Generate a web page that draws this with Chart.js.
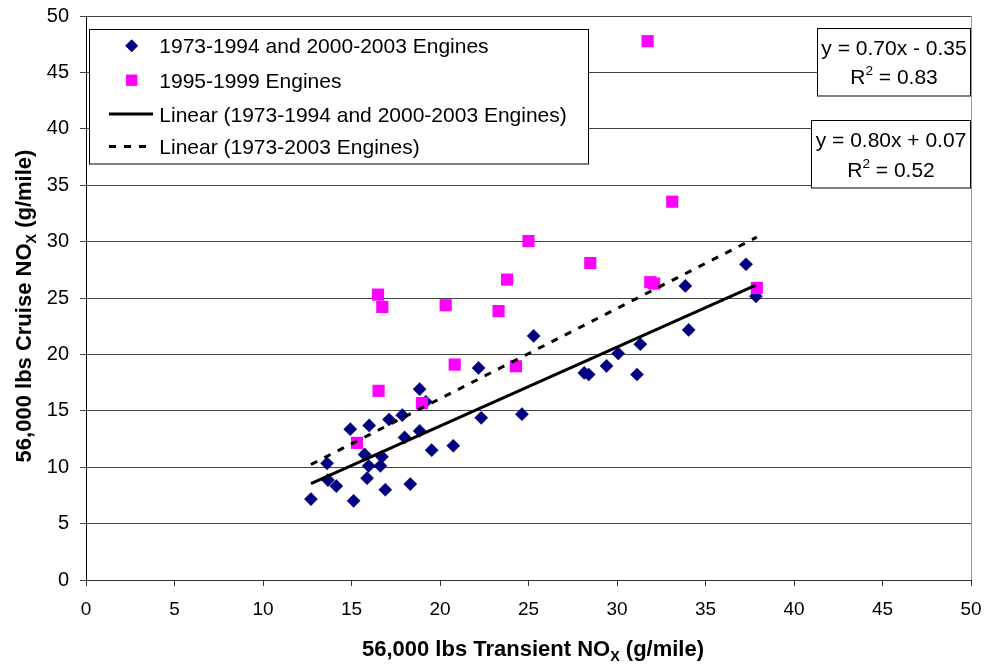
<!DOCTYPE html>
<html>
<head>
<meta charset="utf-8">
<script src="https://cdn.jsdelivr.net/npm/chart.js@4.4.1/dist/chart.umd.min.js"></script>
<style>
  html,body{margin:0;padding:0;background:#fff;}
</style>
</head>
<body>
<canvas id="noxChart" width="987" height="664"></canvas>
<script>
// ==================== Data ====================
const blueX=[12.71,13.62,13.67,14.14,14.93,15.12,15.74,16.00,15.97,15.88,16.63,16.72,16.91,17.12,17.87,18.00,18.32,18.85,18.85,19.20,19.53,20.75,22.18,22.33,24.63,25.29,28.15,28.40,29.41,30.07,31.13,31.32,33.86,34.05,37.29,37.85];
const blueY=[7.17,10.34,8.86,8.33,13.37,7.02,11.13,13.70,10.12,9.03,10.12,10.92,8.00,14.23,14.61,12.64,8.50,13.22,16.92,15.80,11.51,11.90,18.80,14.38,14.70,21.64,18.36,18.22,18.98,20.08,18.22,20.90,26.07,22.17,27.99,25.15];
const pinkX=[15.31,16.50,16.53,16.74,18.98,20.32,20.83,23.31,23.79,24.29,25.00,28.49,31.73,31.88,32.10,33.12,37.90];
const pinkY=[12.16,25.30,16.77,24.21,15.68,24.36,19.10,23.84,26.63,18.95,30.05,28.10,47.77,26.40,26.28,33.54,25.89];

const seriesNames=["1973-1994 and 2000-2003 Engines","1995-1999 Engines"];
const fitNames=["Linear (1973-1994 and 2000-2003 Engines)","Linear (1973-2003 Engines)"];
const fitSlope=[0.70,0.80];
const fitIntercept=[-0.35,0.07];
const fitEq=["y = 0.70x - 0.35","y = 0.80x + 0.07"];
const fitR2=["0.83","0.52"];

const xTicks=[0,5,10,15,20,25,30,35,40,45,50];
const yTicks=[0,5,10,15,20,25,30,35,40,45,50];

// ==================== Helpers ====================
const FONT="'Liberation Sans', Arial, sans-serif";
const toPts=(xs,ys)=>xs.map((x,i)=>({x:x,y:ys[i]}));
// trendline ends over the x range of the fitted points
function fitLine(i,xs){
  const lo=Math.min(...xs), hi=Math.max(...xs);
  return [lo,hi].map(x=>({x:x,y:fitSlope[i]*x+fitIntercept[i]}));
}
const allX=blueX.concat(pinkX);

function fnt(size,bold){ return (bold?"bold ":"")+size+"px "+FONT; }
// parts: [text, mode] mode 0 normal, 1 subscript, 2 superscript
function richText(ctx,parts,x,y,size,bold,center){
  const sm=size*0.65;
  const w=parts.map(([t,m])=>{ctx.font=fnt(m?sm:size,bold);return ctx.measureText(t).width;});
  let cx=center? x-w.reduce((a,b)=>a+b,0)/2 : x;
  ctx.textAlign="left"; ctx.textBaseline="alphabetic";
  parts.forEach(([t,m],i)=>{
    ctx.font=fnt(m?sm:size,bold);
    const dy=m===1? size*0.22 : m===2? -size*0.42 : 0;
    ctx.fillText(t,cx,y+dy); cx+=w[i];
  });
}

// ==================== Decorations ====================
const decor={
  id:"decor",
  afterDraw(chart){
    const ctx=chart.ctx, a=chart.chartArea;
    ctx.save();
    // right frame edge
    ctx.strokeStyle="#999"; ctx.lineWidth=1;
    ctx.beginPath(); ctx.moveTo(a.right+0.5,a.top); ctx.lineTo(a.right+0.5,a.bottom); ctx.stroke();

    // legend box
    ctx.fillStyle="#fff"; ctx.strokeStyle="#000";
    ctx.fillRect(89.5,29.5,499,134.5); ctx.strokeRect(89.5,29.5,499,134.5);
    const rows=[53.3,87.7,121.5,154];
    const labels=seriesNames.concat(fitNames);
    chart.data.datasets.forEach((ds,i)=>{
      const cy=rows[i]-7.5;
      ctx.save();
      if(i<2){
        ctx.fillStyle=ds.backgroundColor; ctx.strokeStyle=ds.borderColor;
        Chart.helpers.drawPoint(ctx,{pointStyle:ds.pointStyle,rotation:0,radius:ds.pointRadius-0.6,borderWidth:ds.borderWidth},131.7,cy);
      } else {
        ctx.strokeStyle=ds.borderColor; ctx.lineWidth=ds.borderWidth;
        ctx.setLineDash(ds.borderDash||[]);
        ctx.beginPath(); ctx.moveTo(109,cy); ctx.lineTo(153,cy); ctx.stroke();
      }
      ctx.restore();
      ctx.fillStyle="#000";
      richText(ctx,[[labels[i],0]],159.3,rows[i],21,false,false);
    });

    // trendline equation boxes
    const boxes=[[817.5,28.5,153,67.5,55.2,83.5],[811.5,120.5,159,67.5,146.7,176.5]];
    boxes.forEach((b,i)=>{
      ctx.fillStyle="#fff"; ctx.strokeStyle="#000"; ctx.lineWidth=1;
      ctx.fillRect(b[0],b[1],b[2],b[3]); ctx.strokeRect(b[0],b[1],b[2],b[3]);
      ctx.fillStyle="#000";
      const cx=b[0]+b[2]/2;
      richText(ctx,[[fitEq[i],0]],cx,b[4],21,false,true);
      richText(ctx,[["R",0],["2",2],[" = "+fitR2[i],0]],cx,b[5],21,false,true);
    });

    // axis titles
    ctx.fillStyle="#000";
    richText(ctx,[["56,000 lbs Transient NO",0],["X",1],[" (g/mile)",0]],533,656,22,true,true);
    ctx.translate(31,306); ctx.rotate(-Math.PI/2);
    richText(ctx,[["56,000 lbs Cruise NO",0],["X",1],[" (g/mile)",0]],0,0,22,true,true);
    ctx.restore();
  }
};

// ==================== Chart ====================
const ctx=document.getElementById("noxChart").getContext("2d");
new Chart(ctx,{
  type:"scatter",
  data:{
    datasets:[
      {label:seriesNames[0],data:toPts(blueX,blueY),pointStyle:"rectRot",pointRadius:6.6,borderWidth:0.5,
        backgroundColor:"#000080",borderColor:"#000080",order:2},
      {label:seriesNames[1],data:toPts(pinkX,pinkY),pointStyle:"rect",pointRadius:8.6,borderWidth:0,
        backgroundColor:"#ff00ff",borderColor:"#ff00ff",order:1},
      {label:fitNames[0],data:fitLine(0,blueX),showLine:true,pointRadius:0,borderWidth:3,
        borderColor:"#000",backgroundColor:"#000",order:0},
      {label:fitNames[1],data:fitLine(1,allX),showLine:true,pointRadius:0,borderWidth:3,borderDash:[7,8],
        borderColor:"#000",backgroundColor:"#000",order:0}
    ]
  },
  options:{
    responsive:false,
    animation:false,
    layout:{padding:{left:0,right:16,top:16,bottom:0}},
    plugins:{legend:{display:false},tooltip:{enabled:false}},
    scales:{
      x:{
        type:"linear",min:0,max:50,
        afterBuildTicks:s=>{s.ticks=xTicks.map(v=>({value:v}));},
        afterFit:s=>{s.height=84;s.paddingLeft=0;s.paddingRight=0;},
        grid:{drawOnChartArea:false,drawTicks:true,tickLength:6,color:"#333"},
        border:{display:true,color:"#333",width:1},
        ticks:{color:"#000",padding:12,maxRotation:0,font:{family:FONT,size:19}}
      },
      y:{
        type:"linear",min:0,max:50,
        afterBuildTicks:s=>{s.ticks=yTicks.map(v=>({value:v}));},
        afterFit:s=>{s.width=86;s.paddingTop=0;s.paddingBottom=0;},
        grid:{color:"#444",tickLength:6,lineWidth:1},
        border:{display:true,color:"#000",width:1},
        ticks:{color:"#000",padding:11,font:{family:FONT,size:20}}
      }
    }
  },
  plugins:[decor]
});
</script>
</body>
</html>
